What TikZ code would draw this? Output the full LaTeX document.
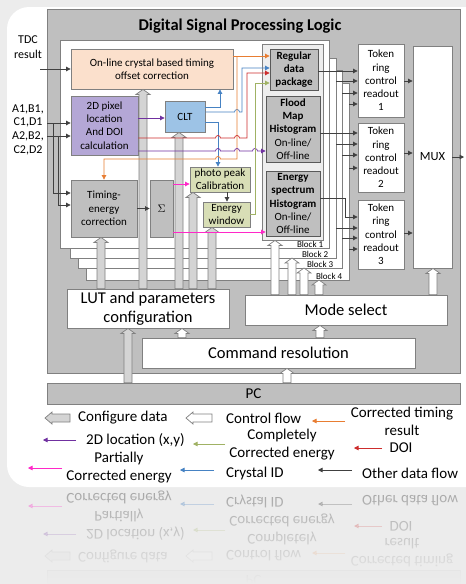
\documentclass[tikz,border=0pt]{standalone}
\usepackage{fontspec}
\setmainfont{Carlito}
\usepackage{tikz}
\usetikzlibrary{arrows.meta,calc,positioning,fadings}

\definecolor{dspgray}{RGB}{191,191,191}
\definecolor{edgegray}{RGB}{128,128,128}
\definecolor{panelgray}{RGB}{238,238,238}
\definecolor{tdcfill}{RGB}{251,224,204}
\definecolor{pixfill}{RGB}{180,167,214}
\definecolor{cltfill}{RGB}{157,195,230}
\definecolor{calfill}{RGB}{216,222,182}
\definecolor{cfgfill}{RGB}{212,212,212}
\definecolor{torange}{RGB}{232,125,50}
\definecolor{tblue}{RGB}{70,130,195}
\definecolor{tred}{RGB}{205,45,45}
\definecolor{tpurple}{RGB}{112,48,160}
\definecolor{tgreen}{RGB}{160,178,100}
\definecolor{tpink}{RGB}{255,40,200}
\definecolor{tdark}{RGB}{64,64,64}
\definecolor{bgcard}{RGB}{236,236,236}

% fat vertical arrow: style, x, from anchor, to anchor
\newcommand\fatup[4]{%
  \draw[#1] let \p1=(#3), \p2=(#4) in
    (#2pt-4pt,\y1) -- (#2pt-4pt,\y2-5pt) -- (#2pt-7pt,\y2-5pt) -- (#2pt,\y2)
    -- (#2pt+7pt,\y2-5pt) -- (#2pt+4pt,\y2-5pt) -- (#2pt+4pt,\y1) -- cycle;}

% PC bar and legend (drawn twice, once mirrored)
\newcommand\legendrows{%
  \node[pcbox] (pc) at (253.5,393.5) {PC};
  \draw[cfgarrow] (70,414) -- (52,414) -- (52,412) -- (45,418) -- (52,424) -- (52,422) -- (70,422) -- cycle;
  \node[legtext, anchor=west] (lcfg) at (78,418) {Configure data};
  \draw[ctrlarrow] (212,414) -- (193,414) -- (193,412) -- (186,418) -- (193,424) -- (193,422) -- (212,422) -- cycle;
  \node[legtext, anchor=west] (lctrl) at (226,418) {Control flow};
  \coordinate (ot1) at (345,421); \coordinate (ot2) at (312,421);
  \draw[flow, torange] (ot1) -- (ot2);
  \node[legtext] (ltiming) at (402,421) {Corrected timing\\result};
  \coordinate (lo1) at (76,440); \coordinate (lo2) at (43,440);
  \draw[flow, tpurple] (lo1) -- (lo2);
  \node[legtext, anchor=west] (lloc) at (86,440) {2D location (x,y)};
  \coordinate (ce1) at (225,444); \coordinate (ce2) at (193,444);
  \draw[flow, tgreen] (ce1) -- (ce2);
  \node[legtext] (lfull) at (282,445) {Completely\\Corrected energy};
  \coordinate (do1) at (382,448); \coordinate (do2) at (354,448);
  \draw[flow, tred] (do1) -- (do2);
  \node[legtext] (ldoi) at (401,448) {DOI};
  \coordinate (pe1) at (62,468); \coordinate (pe2) at (28,468);
  \draw[flow, tpink] (pe1) -- (pe2);
  \node[legtext] (lpart) at (119,468) {Partially\\Corrected energy};
  \coordinate (ci1) at (214,470); \coordinate (ci2) at (180,470);
  \draw[flow, tblue] (ci1) -- (ci2);
  \node[legtext, anchor=west] (lcid) at (226,473) {Crystal ID};
  \coordinate (od1) at (352,470); \coordinate (od2) at (318,470);
  \draw[flow, tdark] (od1) -- (od2);
  \node[legtext, anchor=west] (lother) at (362,473) {Other data flow};
}

\begin{document}
\begin{tikzpicture}[x=1pt, y=-1pt,
    font=\fontsize{11}{13.3}\selectfont,
    box/.style={draw=edgegray, line width=0.8pt, inner sep=0pt, align=center},
    greybox/.style={box, fill=dspgray},
    histbox/.style={box, fill=dspgray, draw=black!65},
    wbox/.style={box, fill=white},
    panel/.style={draw=edgegray, line width=0.7pt, fill=white},
    pcbox/.style={box, fill=dspgray, minimum width=413pt, minimum height=21pt, font=\fontsize{15}{18}\selectfont},
    bigtext/.style={font=\fontsize{16.5}{19}\selectfont},
    legtext/.style={inner sep=0pt, align=center, font=\fontsize{15}{18}\selectfont},
    flow/.style={line width=0.7pt, -{Triangle[length=4.5pt,width=4.5pt]}},
    cfgarrow/.style={draw=edgegray, line width=0.7pt, fill=cfgfill},
    ctrlarrow/.style={draw=edgegray, line width=0.7pt, fill=white}
]
\useasboundingbox (0,0) rectangle (466,584);
\fill[bgcard] (0,0) rectangle (466,584);
\fill[white, rounded corners=22pt] (7,7) rectangle (490,487);

% Main frame
\node[box, fill=dspgray, minimum width=413pt, minimum height=364pt] (dsp) at (253.5,191) {};
\node[font=\fontsize{16.5}{20}\selectfont\bfseries] (title) at (240,26) {Digital Signal Processing Logic};

% Stacked blocks
\foreach \n/\l/\t/\r/\b in {4/86/83/349/280, 3/78/70/342/268, 2/70/58/336/258, 1/60/40/329/248}
  \draw[panel] (\l,\t) rectangle (\r,\b) coordinate (blk\n-se);
\foreach \n/\r/\b in {1/324/248, 2/329/258, 3/334/268, 4/343/280}
  \node[font=\fontsize{9}{10}\selectfont, anchor=south east, inner sep=0.6pt] (blab\n) at (\r,\b) {Block \n};
\node[box, fill=panelgray, minimum width=61pt, minimum height=196pt] (store) at (292.5,142) {};

% Processing boxes
\node[box, fill=tdcfill, minimum width=162pt, minimum height=40pt] (offset) at (152,69) {On-line crystal based timing\\offset correction};
\node[box, fill=pixfill, minimum width=67pt, minimum height=59pt] (pixel) at (104.5,125.5) {2D pixel\\location\\And DOI\\calculation};
\node[box, fill=cltfill, minimum width=40pt, minimum height=31pt] (clt) at (185,116.5) {CLT};
\node[greybox, minimum width=66pt, minimum height=57pt] (tecorr) at (104,208.5) {Timing-\\energy\\correction};
\node[greybox, minimum width=23pt, minimum height=57pt] (sigma) at (161.5,208.5) {$\Sigma$};
\node[box, fill=calfill, minimum width=60pt, minimum height=25pt] (peak) at (220,179.5) {photo peak\\Calibration};
\node[box, fill=calfill, minimum width=47pt, minimum height=25pt] (ewin) at (226.5,214.5) {Energy\\window};
\node[histbox, minimum width=48pt, minimum height=41pt] (regular) at (294,69.5) {\textbf{Regular}\\\textbf{data}\\\textbf{package}};
\node[histbox, minimum width=54pt, minimum height=66pt] (flood) at (293,129) {\textbf{Flood}\\\textbf{Map}\\\textbf{Histogram}\\On-line/\\Off-line};
\node[histbox, minimum width=54pt, minimum height=65pt] (espec) at (293,203.5) {\textbf{Energy}\\\textbf{spectrum}\\\textbf{Histogram}\\On-line/\\Off-line};

% Readout
\foreach \i/\y/\h in {1/80.5/73, 2/157.5/69, 3/234.5/69}
  \node[wbox, minimum width=46pt, minimum height=\h pt] (tok\i) at (381,\y) {Token\\ring\\control\\readout\\\i};
\node[wbox, minimum width=39pt, minimum height=222pt, font=\fontsize{12.5}{15}\selectfont] (mux) at (432.5,157) {MUX};

% Configuration and control
\node[wbox, bigtext, minimum width=162pt, minimum height=39pt] (lut) at (148,308.5) {LUT and parameters\\configuration};
\node[wbox, bigtext, minimum width=202pt, minimum height=30pt] (mode) at (346,310) {Mode select};
\node[wbox, bigtext, minimum width=273pt, minimum height=30pt] (cmd) at (278.5,353) {Command resolution};

% Inputs
\node[align=center, font=\fontsize{12}{15}\selectfont] (tdc) at (28,47.5) {TDC\\result};
\node[align=center, font=\fontsize{12}{13.7}\selectfont] (abcd) at (28,129.5) {A1,B1,\\C1,D1\\A2,B2,\\C2,D2};

\legendrows

% Fat arrows
\fatup{cfgarrow}{128}{pc.north}{lut.south}
\fatup{cfgarrow}{101}{lut.north}{tecorr.south}
\fatup{cfgarrow}{143}{lut.north}{offset.south}
\fatup{cfgarrow}{179}{lut.north}{clt.south}
\fatup{cfgarrow}{193}{lut.north}{peak.south}
\fatup{cfgarrow}{212}{lut.north}{ewin.south}
\fatup{ctrlarrow}{287}{pc.north}{cmd.south}
\fatup{ctrlarrow}{182}{cmd.north}{lut.south}
\fatup{ctrlarrow}{320}{cmd.north}{mode.south}
\fatup{ctrlarrow}{275}{mode.north}{store.south}
\fatup{ctrlarrow}{292}{mode.north}{blk2-se}
\fatup{ctrlarrow}{304}{mode.north}{blk3-se}
\fatup{ctrlarrow}{319}{mode.north}{blk4-se}
\fatup{ctrlarrow}{433}{mode.north}{mux.south}

% Input data
\coordinate (tdcin) at (40,69);
\coordinate (in1) at (47,123);
\coordinate (in2) at (47,136);
\coordinate (br1) at (53,123);
\coordinate (br2) at (58,136);
\draw[flow, tdark] (tdcin) -- (offset.west |- tdcin);
\draw[flow, tdark] (in1) -- (pixel.west |- in1);
\draw[flow, tdark] (in2) -- (pixel.west |- in2);
\draw[flow, tdark] (br1) |- (tecorr.west |- 0,193);
\draw[flow, tdark] (br2) |- (tecorr.west |- 0,205);

% Internal flows
\draw[flow, tdark] (tecorr.east) -- (sigma.west);
\draw[flow, tdark] (peak.south -| 227,0) -- (ewin.north -| 227,0);
\draw[flow, tpurple] (pixel.east |- 0,118) -- (clt.west |- 0,118);
\draw[flow, tpink] (sigma.east |- 0,184) -- (peak.west |- 0,184);
\draw[flow, tpink] (sigma.east |- 0,232) -- (espec.west |- 0,232);
\draw[flow, tblue] (clt.east |- 0,107) -| (offset.south -| 220,0);
\draw[flow, tblue] (clt.east |- 0,122) -| (peak.north -| 218,0);
\draw[flow, tblue] (clt.east |- 0,112) -- (234.5,112) arc[start angle=180, end angle=0, radius=2.5pt] -- (242,112) |- (regular.west |- 0,68);
\draw[flow, torange] (offset.east |- 0,56) -- (regular.west |- 0,56);
\draw[flow, torange] (237,56) -- (237,159) -- (220.5,159) arc[start angle=0, end angle=180, radius=2.5pt] -- (104,159) -- (tecorr.north);
\draw[flow, tred] (pixel.east |- 0,138) -- (215.5,138) arc[start angle=180, end angle=0, radius=2.5pt]
  -- (234.5,138) arc[start angle=180, end angle=0, radius=2.5pt] -- (247,138) |- (regular.west |- 0,73);
\draw[flow, tpurple] (pixel.east |- 0,151) -- (215.5,151) arc[start angle=180, end angle=0, radius=2.5pt]
  -- (234.5,151) arc[start angle=180, end angle=0, radius=2.5pt]
  -- (252.5,151) arc[start angle=180, end angle=0, radius=2.5pt] -- (flood.west |- 0,151);
\draw[flow, tgreen] (ewin.east) -- (ewin.east -| 255,0) |- (regular.west |- 0,83);

% To readout
\draw[flow, tdark] (regular.east |- 0,71) -- (tok1.west |- 0,71);
\draw[flow, tdark] (flood.east |- 0,133) -- (tok2.west |- 0,133);
\draw[flow, tdark] (espec.east |- 0,198) -- (345,198) |- (tok3.west |- 0,217);
\foreach \b/\ya/\yb/\yc in {2/81/144/228, 3/93/155/238, 4/104/168/249} {
  \draw[flow, tdark] (blk\b-se |- 0,\ya) -- (tok1.west |- 0,\ya);
  \draw[flow, tdark] (blk\b-se |- 0,\yb) -- (tok2.west |- 0,\yb);
  \draw[flow, tdark] (blk\b-se |- 0,\yc) -- (tok3.west |- 0,\yc);
}
\draw[flow, tdark] (tok1.east |- 0,81) -- (mux.west |- 0,81);
\draw[flow, tdark] (tok2.east |- 0,153) -- (mux.west |- 0,153);
\draw[flow, tdark] (tok3.east |- 0,233) -- (mux.west |- 0,233);
\coordinate (muxout) at (464,157);
\draw[flow, tdark] (mux.east) -- (muxout);

% Reflection
\begin{scope}
  \clip (0,487) rectangle (466,584);
  \begin{scope}[shift={(0,974)}, yscale=-1, transform shape, opacity=0.3, name prefix=mir-]
    \legendrows
  \end{scope}
  \fill[bgcard, path fading=north] (0,487) rectangle (466,584);
\end{scope}
\end{tikzpicture}
\end{document}
